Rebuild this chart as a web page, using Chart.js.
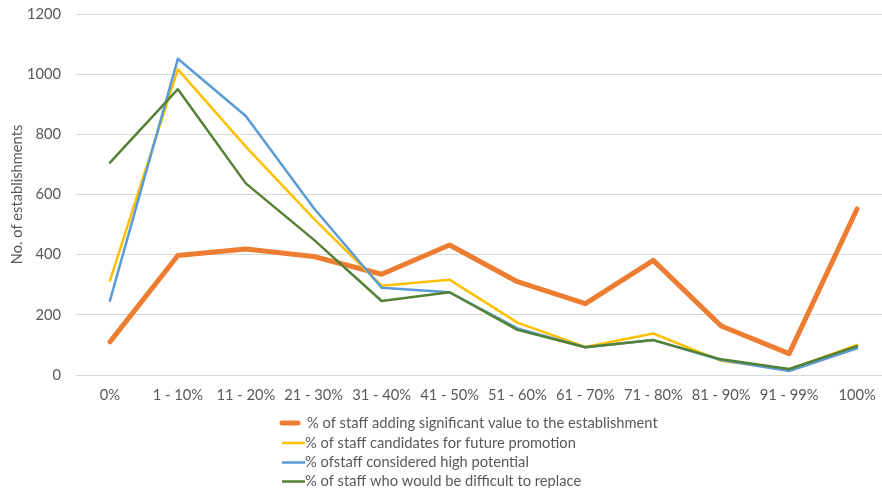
<!DOCTYPE html>
<html>
<head>
<meta charset="utf-8">
<script src="https://cdn.jsdelivr.net/npm/chart.js@4/dist/chart.umd.min.js"></script>
<style>
  html, body { margin: 0; padding: 0; background: #fff; overflow: hidden; }
  #wrap { width: 900px; height: 488px; position: relative; }
</style>
</head>
<body>
<div id="wrap"><canvas id="c" width="900" height="488"></canvas></div>
<script>
// Share of staff bands (x axis)
const categories = ['0%', '1 - 10%', '11 - 20%', '21 - 30%', '31 - 40%', '41 - 50%',
                    '51 - 60%', '61 - 70%', '71 - 80%', '81 - 90%', '91 - 99%', '100%'];

// Number of establishments per band
const addingValue   = [110, 397, 419, 394, 335, 432, 310, 237, 381, 163, 71, 552];
const promotion     = [314, 1016, 759, 520, 297, 317, 174, 93, 138, 47, 18, 100];
const highPotential = [247, 1051, 861, 555, 290, 275, 155, 92, 116, 50, 13, 89];
const hardToReplace = [706, 950, 637, 450, 246, 275, 150, 92, 116, 52, 20, 96];

const seriesLabels = [
  '% of staff adding significant value to the establishment',
  '% of staff candidates for future promotion',
  '% ofstaff considered high potential',
  '% of staff who would be difficult to replace'
];

const yTicks = [0, 200, 400, 600, 800, 1000, 1200];

const FONT = 'Lato, "Noto Sans", sans-serif';
const FONT_SIZE = 14.7;
const TEXT = '#595959';

// Legend stacked in a column under the plot
const columnLegend = {
  id: 'columnLegend',
  afterDraw(chart) {
    const ctx = chart.ctx;
    const rows = [423, 443, 462.5, 481.5];
    ctx.save();
    ctx.font = FONT_SIZE + 'px ' + FONT;
    ctx.fillStyle = TEXT;
    ctx.textBaseline = 'middle';
    chart.data.datasets.forEach((ds, i) => {
      const y = rows[i];
      ctx.strokeStyle = ds.borderColor;
      ctx.lineWidth = ds.borderWidth;
      ctx.lineCap = i === 0 ? 'round' : 'butt';
      ctx.beginPath();
      if (i === 0) { ctx.moveTo(282, y); ctx.lineTo(298, y); }
      else { ctx.moveTo(282, y); ctx.lineTo(305, y); }
      ctx.stroke();
      ctx.fillText(ds.label, i === 0 ? 307 : 305, y);
    });
    ctx.restore();
  }
};

function lineSet(label, data, color, width, order) {
  return {
    label, data,
    borderColor: color, backgroundColor: color,
    borderWidth: width, pointRadius: 0, pointHoverRadius: 0,
    tension: 0, fill: false,
    borderJoinStyle: 'round', borderCapStyle: 'round',
    order
  };
}

new Chart(document.getElementById('c'), {
  type: 'line',
  data: {
    labels: categories,
    datasets: [
      lineSet(seriesLabels[0], addingValue, '#ED7D31', 5, 3),
      lineSet(seriesLabels[1], promotion, '#FFC000', 2.5, 2),
      lineSet(seriesLabels[2], highPotential, '#5B9BD5', 2.5, 1),
      lineSet(seriesLabels[3], hardToReplace, '#548235', 2.5, 0)
    ]
  },
  options: {
    responsive: false,
    animation: false,
    layout: { padding: { top: 14, right: 9, bottom: 0, left: 0 } },
    plugins: { legend: { display: false }, tooltip: { enabled: false } },
    scales: {
      x: {
        offset: true,
        grid: { display: false, drawTicks: false },
        border: { display: false },
        ticks: { color: TEXT, font: { family: FONT, size: FONT_SIZE }, padding: 11, maxRotation: 0, autoSkip: false },
        afterFit(s) { s.height = 113; s.paddingLeft = 0; s.paddingRight = 0; }
      },
      y: {
        min: 0, max: 1200,
        afterBuildTicks(s) { s.ticks = yTicks.map(v => ({ value: v })); },
        grid: { color: '#D9D9D9', lineWidth: 1, drawTicks: false },
        border: { display: false },
        ticks: {
          color: TEXT, font: { family: FONT, size: FONT_SIZE }, padding: 15,
          callback: v => String(v)
        },
        title: {
          display: true, text: 'No. of establishments', color: TEXT,
          font: { family: FONT, size: FONT_SIZE }, padding: { top: 8, bottom: 0 }
        },
        afterFit(s) { s.width = 76; s.paddingTop = 0; s.paddingBottom = 0; }
      }
    }
  },
  plugins: [columnLegend]
});
</script>
</body>
</html>
